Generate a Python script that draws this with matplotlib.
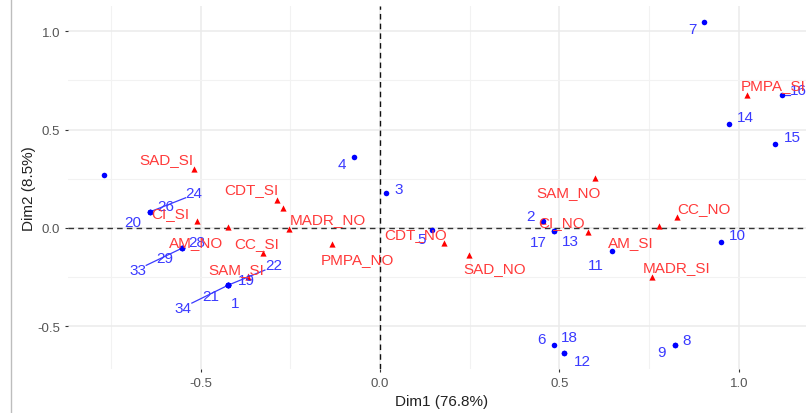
"""Biplot of individuals and categories on the first two dimensions (MCA style)."""

import matplotlib
matplotlib.use("Agg")
import matplotlib.pyplot as plt
from matplotlib.lines import Line2D

# ── Data: individuals (blue) ──
ind_names = ["", "20", "24", "26", "28", "29", "33", "1", "19", "21", "22", "34",
             "4", "3", "5", "2", "13", "17", "11", "10", "6", "12", "18",
             "8", "9", "7", "16", "14", "15"]
ind_x = [-0.771, -0.641, -0.641, -0.641, -0.553, -0.553, -0.553, -0.423, -0.423,
         -0.423, -0.423, -0.423, -0.072, 0.017, 0.145, 0.454, 0.486, 0.486,
         0.646, 0.951, 0.485, 0.513, 0.513, 0.822, 0.822, 0.903, 1.121, 0.973, 1.101]
ind_y = [0.268, 0.082, 0.082, 0.082, -0.104, -0.104, -0.104, -0.291, -0.291,
         -0.291, -0.291, -0.291, 0.360, 0.177, -0.011, 0.035, -0.015, -0.015,
         -0.117, -0.072, -0.597, -0.637, -0.637, -0.597, -0.597, 1.047, 0.676,
         0.528, 0.427]

# ── Data: categories (red) ──
cat_names = ["SAD_SI", "CDT_SI", "", "MADR_NO", "CI_SI", "AM_NO", "CC_SI", "SAM_SI",
             "PMPA_NO", "CDT_NO", "SAD_NO", "SAM_NO", "CI_NO", "AM_SI", "",
             "CC_NO", "MADR_SI", "PMPA_SI"]
cat_x = [-0.519, -0.287, -0.270, -0.254, -0.510, -0.424, -0.326, -0.368,
         -0.134, 0.178, 0.248, 0.599, 0.454, 0.580, 0.778, 0.828, 0.758, 1.023]
cat_y = [0.299, 0.141, 0.101, -0.006, 0.035, 0.004, -0.128, -0.250,
         -0.082, -0.077, -0.138, 0.253, 0.035, -0.021, 0.009, 0.055, -0.250, 0.676]

dim1_pct = 76.8
dim2_pct = 8.5

# ── Label placement (pixel offsets from the point, image convention: +y down) ──
OFFSETS = {
    "20": (-17, 10), "26": (16, -6), "24": (44, -19),
    "28": (15, -6), "29": (-17, 10), "33": (-44, 22),
    "19": (18, -5), "22": (45, -20), "21": (-18, 11), "34": (-45, 23), "1": (7, 18),
    "4": (-12, 7), "3": (12, -4), "5": (-11, 9), "2": (-12, -5),
    "17": (-16, 11), "13": (16, 10), "11": (-16, 14), "10": (16, -7),
    "6": (-13, -6), "18": (5, -16), "12": (18, 8), "8": (12, -5), "9": (-14, 7),
    "7": (-12, 7), "16": (16, -5), "14": (16, -7), "15": (17, -7),
    "SAD_SI": (-28, -10), "CDT_SI": (-26, -11), "CI_SI": (-27, -8),
    "MADR_NO": (39, -10), "AM_NO": (-32, 15), "CC_SI": (-6, -10),
    "SAM_SI": (-12, -8), "PMPA_NO": (25, 15), "CDT_NO": (-28, -9),
    "SAD_NO": (26, 13), "SAM_NO": (-26, 14), "CI_NO": (19, 1),
    "AM_SI": (43, 10), "MADR_SI": (25, -10), "CC_NO": (27, -9), "PMPA_SI": (26, -10),
}
LEADERS = {"24", "33", "22", "34", "16", "SAM_SI"}

BLUE = "#0000ff"
BLUE_TXT = "#3a3aff"
RED = "#ff0000"
RED_TXT = "#ff3a3a"

plt.rcParams["font.family"] = ["Liberation Sans", "DejaVu Sans"]

W, H = 806, 414
fig = plt.figure(figsize=(W / 100, H / 100), dpi=100)
# panel spans px 68..816 horizontally (cropped at the right), 7..370 vertically
ax = fig.add_axes([68 / W, (H - 370) / H, (816 - 68) / W, (370 - 7) / H])
ax.set_xlim(-0.870, 1.215)
ax.set_ylim(-0.718, 1.129)

# grid like theme_minimal
ax.set_xticks([-0.5, 0.0, 0.5, 1.0])
ax.set_yticks([-0.5, 0.0, 0.5, 1.0])
ax.set_xticks([-0.75, -0.25, 0.25, 0.75], minor=True)
ax.set_yticks([-0.25, 0.25, 0.75], minor=True)
ax.grid(True, which="major", color="#ebebeb", lw=1.1)
ax.grid(True, which="minor", color="#f2f2f2", lw=0.8)
ax.set_axisbelow(True)
for s in ax.spines.values():
    s.set_visible(False)
ax.tick_params(which="major", length=2.5, width=0.8, color="#333333",
               labelsize=9.5, labelcolor="#555555", pad=3)
ax.tick_params(which="minor", length=0)
ax.set_xticklabels(["-0.5", "0.0", "0.5", "1.0"])
ax.set_yticklabels(["-0.5", "0.0", "0.5", "1.0"])

ax.axhline(0, color="#333333", lw=1, ls=(0, (4, 3)), zorder=1)
ax.axvline(0, color="#111111", lw=1, ls=(0, (4, 3)), zorder=1)

ax.set_xlabel(f"Dim1 ({dim1_pct}%)", fontsize=11, color="#222222", labelpad=4)
ax.set_ylabel(f"Dim2 ({dim2_pct}%)", fontsize=11, color="#222222", labelpad=1)

ax.scatter(cat_x, cat_y, marker="^", s=20, color=RED, lw=0, zorder=3)
ax.scatter(ind_x, ind_y, marker="o", s=16, color=BLUE, lw=0, zorder=4)

labels = []
for names, xs, ys, col in ((ind_names, ind_x, ind_y, BLUE_TXT),
                           (cat_names, cat_x, cat_y, RED_TXT)):
    for name, x, y in zip(names, xs, ys):
        if not name:
            continue
        dx, dy = OFFSETS[name]
        t = ax.annotate(name, (x, y), xytext=(dx, -dy), textcoords="offset pixels",
                        ha="center", va="center", fontsize=11, color=col, zorder=5,
                        annotation_clip=False)
        labels.append((name, x, y, t, col))

# leader segments from point to nearest edge of its label
fig.canvas.draw()
renderer = fig.canvas.get_renderer()
inv = ax.transData.inverted()
for name, x, y, t, col in labels:
    if name not in LEADERS:
        continue
    bb = t.get_window_extent(renderer)
    px, py = ax.transData.transform((x, y))
    qx = min(max(px, bb.x0), bb.x1)
    qy = min(max(py, bb.y0 + 2), bb.y1 - 2)
    (x1, y1), (x2, y2) = inv.transform([(px, py), (qx, qy)])
    ax.plot([x1, x2], [y1, y2], color=col, lw=0.9, zorder=2, clip_on=False)

# thin border line at the left edge of the image
fig.add_artist(Line2D([11 / W, 11 / W], [0, 1], color="#bdbdbd", lw=1))

fig.savefig("out.png", dpi=100)
